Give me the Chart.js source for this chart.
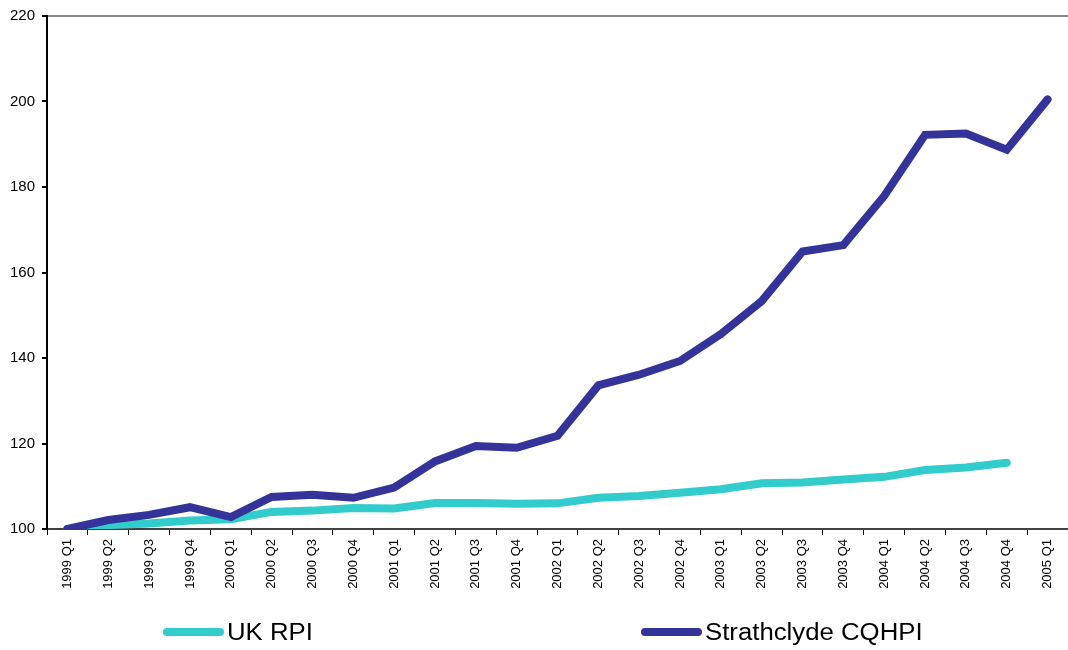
<!DOCTYPE html>
<html>
<head>
<meta charset="utf-8">
<script src="https://cdn.jsdelivr.net/npm/chart.js@4/dist/chart.umd.min.js"></script>
<style>
  html, body { margin: 0; padding: 0; background: #fff; }
  #wrap { width: 1068px; height: 650px; }
</style>
</head>
<body>
<div id="wrap"><canvas id="myChart"></canvas></div>
<script>
let quarters = ['1999 Q1','1999 Q2','1999 Q3','1999 Q4','2000 Q1','2000 Q2','2000 Q3','2000 Q4',
  '2001 Q1','2001 Q2','2001 Q3','2001 Q4','2002 Q1','2002 Q2','2002 Q3','2002 Q4',
  '2003 Q1','2003 Q2','2003 Q3','2003 Q4','2004 Q1','2004 Q2','2004 Q3','2004 Q4','2005 Q1'];

let ukRpi = [100, 100.9, 101.3, 102.0, 102.3, 104.0, 104.3, 104.9,
  104.8, 106.1, 106.1, 105.9, 106.0, 107.3, 107.7, 108.5,
  109.3, 110.7, 110.9, 111.6, 112.2, 113.8, 114.4, 115.5, null];

let strathclyde = [100, 102.1, 103.3, 105.1, 102.8, 107.5, 108.0, 107.3,
  109.7, 115.8, 119.4, 119.0, 121.8, 133.6, 136.1, 139.3,
  145.6, 153.3, 164.9, 166.4, 177.9, 192.2, 192.5, 188.7, 200.5];

let yTicks = [100, 120, 140, 160, 180, 200, 220];

const axisFont = "'Liberation Sans', Arial, sans-serif";

// legend drawn along the bottom, two entries spread out
const bottomLegend = {
  id: 'bottomLegend',
  afterDraw(chart) {
    const c = chart.ctx;
    const spots = [163, 641];
    const y = 632;
    chart.data.datasets.forEach((ds, i) => {
      const x = spots[i];
      c.save();
      c.strokeStyle = ds.borderColor;
      c.lineWidth = 8;
      c.lineCap = 'round';
      c.beginPath();
      c.moveTo(x + 4, y);
      c.lineTo(x + 57, y);
      c.stroke();
      c.fillStyle = '#000';
      c.font = '23px ' + axisFont;
      c.textBaseline = 'middle';
      c.translate(x + 64, y + 2);
      c.scale(1.12, 1);
      c.fillText(ds.label, 0, 0);
      c.restore();
    });
  }
};

const ctx = document.getElementById('myChart').getContext('2d');
const myChart = new Chart(ctx, {
  type: 'line',
  data: {
    labels: quarters,
    datasets: [{
      label: 'UK RPI',
      data: ukRpi,
      borderColor: '#33CCCC',
      backgroundColor: '#33CCCC',
      borderWidth: 8,
      borderCapStyle: 'round',
      pointRadius: 0,
      tension: 0,
      order: 1
    }, {
      label: 'Strathclyde CQHPI',
      data: strathclyde,
      borderColor: '#333399',
      backgroundColor: '#333399',
      borderWidth: 8,
      borderCapStyle: 'round',
      pointRadius: 0,
      tension: 0,
      order: 0
    }]
  },
  options: {
    responsive: true,
    maintainAspectRatio: false,
    animation: false,
    layout: { padding: { top: 11, right: 0, bottom: 50, left: 0 } },
    plugins: {
      legend: { display: false },
      tooltip: { enabled: false }
    },
    scales: {
      x: {
        offset: true,
        border: { color: '#404040', width: 2 },
        grid: {
          offset: true,
          drawOnChartArea: false,
          tickColor: '#000',
          tickLength: 6
        },
        ticks: {
          autoSkip: false,
          minRotation: 90,
          maxRotation: 90,
          color: '#000',
          padding: 4,
          font: { family: axisFont, size: 13 }
        },
        afterFit(scale) { scale.height = 71; }
      },
      y: {
        min: 100,
        max: 220,
        afterBuildTicks(scale) { scale.ticks = yTicks.map(v => ({ value: v })); },
        border: { color: '#000', width: 2 },
        grid: {
          color: c => c.tick && c.tick.value === 220 ? '#8a8a8a' : 'transparent',
          lineWidth: 2,
          tickColor: '#000',
          tickLength: 5
        },
        ticks: {
          color: '#000',
          padding: 7,
          font: { family: axisFont, size: 15 }
        },
        afterFit(scale) { scale.width = 47; }
      }
    }
  },
  plugins: [bottomLegend]
});
</script>
</body>
</html>
